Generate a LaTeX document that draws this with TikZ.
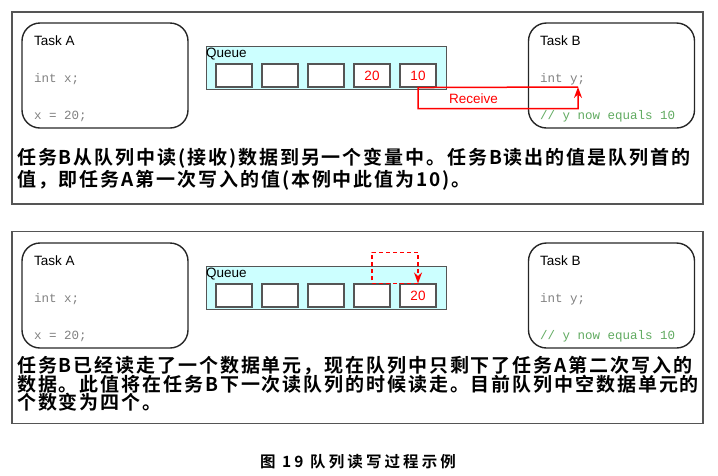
\documentclass[tikz,border=0pt]{standalone}
\usepackage{fontspec}
\setsansfont{Liberation Sans}
\setmonofont{Liberation Mono}
\newfontfamily\cjk{Noto Sans CJK SC}[BoldFont={Noto Sans CJK SC Bold},LetterSpace=10]
\newfontfamily\cjkcap{Noto Sans CJK SC Bold}[LetterSpace=20]
\usetikzlibrary{positioning,arrows.meta}
\definecolor{queuecyan}{RGB}{204,255,255}
\definecolor{codegray}{RGB}{128,128,128}
\definecolor{codegreen}{RGB}{96,170,96}
\definecolor{framegray}{RGB}{85,85,85}

\begin{document}
\begin{tikzpicture}[x=1pt,y=-1pt,
  panel/.style={rectangle,draw=framegray,line width=1.2pt,minimum width=691,minimum height=192},
  task/.style={rectangle,rounded corners=18pt,draw=black!85,line width=1.4pt,minimum width=166,minimum height=105},
  queue/.style={rectangle,draw=framegray,line width=0.8pt,fill=queuecyan,minimum width=240,minimum height=43},
  cell/.style={rectangle,draw=framegray,line width=1.1pt,fill=white,minimum width=36,minimum height=23,inner sep=0pt,font=\sffamily\fontsize{13.5}{14}\selectfont,text=red},
  tasktitle/.style={anchor=west,inner sep=0pt,font=\sffamily\fontsize{13.5}{14}\selectfont},
  codetext/.style={anchor=west,inner sep=0pt,font=\ttfamily\fontsize{12.5}{13}\selectfont,text=codegray},
  desc/.style={anchor=west,inner sep=0pt,font=\cjk\bfseries\fontsize{19}{19}\selectfont},
  recv/.style={draw=red,line width=1.5pt,-{Stealth[length=11pt,width=8pt]}},
  moved/.style={draw=red,line width=1.6pt,dash pattern=on 4pt off 3pt,-{Stealth[length=11pt,width=8pt]}}
]
\useasboundingbox (0,0) rectangle (718,475);
\node[panel] (pan1) at (357.5,108) {};
\node[task] (ta1) at (105,75.5) {};
\node[tasktitle] (ta1t) at (34,41) {Task A};
\node[codetext] (ta1a) at (34,79) {int x;};
\node[codetext] (ta1b) at (34,116) {x = 20;};
\node[queue] (q1) at (326,67.5) {};
\node[tasktitle] (q1t) at (206,54) {Queue};
\node[cell] (c11) at (234,75.5) {};
\node[cell] (c12) at (280,75.5) {};
\node[cell] (c13) at (326,75.5) {};
\node[cell] (c14) at (372,75.5) {20};
\node[cell] (c15) at (418,75.5) {10};
\node[task] (tb1) at (611.5,75.5) {};
\node[tasktitle] (tb1t) at (540,41) {Task B};
\node[codetext] (tb1a) at (540,79) {int y;};
\node[codetext,text=codegreen] (tb1b) at (540,116) {// y now equals 10};
\coordinate (ry) at (578,87);
\draw[recv] (ry) -- (c15.south) -- ++(0,21) -| (ry);
\node[tasktitle,text=red] (rl) at (449,99) {Receive};
\node[desc] (n1a) at (17,158) {任务B从队列中读(接收)数据到另一个变量中。任务B读出的值是队列首的};
\node[desc] (n1b) at (17,180) {值，即任务A第一次写入的值(本例中此值为10)。};

\node[panel] (pan2) at (357.5,327.5) {};
\node[task] (ta2) at (105,295.5) {};
\node[tasktitle] (ta2t) at (34,261) {Task A};
\node[codetext] (ta2a) at (34,299) {int x;};
\node[codetext] (ta2b) at (34,336) {x = 20;};
\node[queue] (q2) at (326,287.5) {};
\node[tasktitle] (q2t) at (206,274) {Queue};
\node[cell] (c21) at (234,295.5) {};
\node[cell] (c22) at (280,295.5) {};
\node[cell] (c23) at (326,295.5) {};
\node[cell] (c24) at (372,295.5) {};
\node[cell] (c25) at (418,295.5) {20};
\node[task] (tb2) at (611.5,295.5) {};
\node[tasktitle] (tb2t) at (540,261) {Task B};
\node[codetext] (tb2a) at (540,299) {int y;};
\node[codetext,text=codegreen] (tb2b) at (540,336) {// y now equals 10};
\draw[moved] (c25.north) -- (c24.north) -- ++(0,-31) -| (c25.north);
\node[desc] (n2a) at (17,366) {任务B已经读走了一个数据单元，现在队列中只剩下了任务A第二次写入的};
\node[desc] (n2b) at (17,384) {数据。此值将在任务B下一次读队列的时候读走。目前队列中空数据单元的};
\node[desc] (n2c) at (17,402) {个数变为四个。};

\node[font=\cjkcap\fontsize{15.5}{16}\selectfont] (cap) at (358,462) {图 19 队列读写过程示例};
\end{tikzpicture}
\end{document}
